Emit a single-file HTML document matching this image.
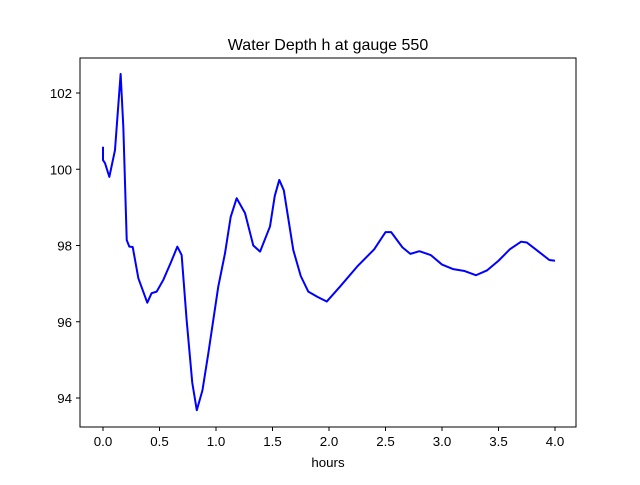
<!DOCTYPE html>
<html><head><meta charset="utf-8"><style>
body{margin:0;background:#fff;font-family:"Liberation Sans","DejaVu Sans",sans-serif}
</style></head><body>
<svg width="640" height="480" xmlns="http://www.w3.org/2000/svg" id="c">
<rect width="640" height="480" fill="#fff"/>
<text x="328" y="50" text-anchor="middle" font-size="16">Water Depth h at gauge 550</text>
<text x="328" y="467" text-anchor="middle" font-size="13.3">hours</text>
<g id="ticks"></g>
<polyline id="line" fill="none" stroke="#0000ff" stroke-width="2" stroke-linejoin="round"/>
<rect x="80" y="58" width="496" height="369" fill="none" stroke="#000" stroke-width="1"/>
</svg>
<script>
const hours=[0,0,0.018,0.056,0.106,0.156,0.18,0.21,0.233,0.263,0.313,0.392,0.43,0.475,0.534,0.6,0.658,0.696,0.74,0.79,0.83,0.88,0.932,1.02,1.08,1.13,1.183,1.257,1.33,1.39,1.478,1.52,1.56,1.6,1.684,1.75,1.817,1.9,1.98,2.097,2.25,2.4,2.5,2.55,2.65,2.72,2.8,2.9,3.0,3.1,3.2,3.3,3.4,3.5,3.6,3.7,3.75,3.85,3.95,4.0];
const depth=[100.59,100.24,100.16,99.8,100.5,102.5,101.1,98.14,97.97,97.96,97.14,96.5,96.75,96.79,97.1,97.55,97.97,97.75,96.05,94.4,93.68,94.2,95.17,96.92,97.8,98.75,99.24,98.85,98.0,97.84,98.5,99.3,99.72,99.45,97.88,97.2,96.79,96.65,96.53,96.92,97.45,97.9,98.35,98.35,97.95,97.78,97.85,97.75,97.5,97.38,97.33,97.22,97.35,97.6,97.9,98.1,98.08,97.85,97.62,97.6];
const xTicks=[0,0.5,1,1.5,2,2.5,3,3.5,4];
const xTickLabels=["0.0","0.5","1.0","1.5","2.0","2.5","3.0","3.5","4.0"];
const yTicks=[94,96,98,100,102];
const yTickLabels=["94","96","98","100","102"];
const X=v=>103+v*113, Y=v=>93+(102-v)*38.125;
const NS="http://www.w3.org/2000/svg";
document.getElementById('line').setAttribute('points',hours.map((h,i)=>X(h)+','+Y(depth[i])).join(' '));
const g=document.getElementById('ticks');
xTicks.forEach((t,i)=>{
 const l=document.createElementNS(NS,'line');
 l.setAttribute('x1',X(t));l.setAttribute('x2',X(t));l.setAttribute('y1',427);l.setAttribute('y2',431);l.setAttribute('stroke','#000');
 
 
 g.appendChild(l);
 const s=document.createElementNS(NS,'text');
 s.setAttribute('x',X(t));s.setAttribute('y',446);s.setAttribute('text-anchor','middle');s.setAttribute('font-size','13.3');
 s.textContent=xTickLabels[i];
 
 
 g.appendChild(s);
});
yTicks.forEach((t,i)=>{
 const l=document.createElementNS(NS,'line');
 l.setAttribute('x1',76);l.setAttribute('x2',80);l.setAttribute('y1',Y(t));l.setAttribute('y2',Y(t));l.setAttribute('stroke','#000');
 
 
 g.appendChild(l);
 const s=document.createElementNS(NS,'text');
 s.setAttribute('x',72);s.setAttribute('y',Y(t)+5);s.setAttribute('text-anchor','end');s.setAttribute('font-size','13.3');
 s.textContent=yTickLabels[i];
 
 
 g.appendChild(s);
});
</script>
</body></html>
